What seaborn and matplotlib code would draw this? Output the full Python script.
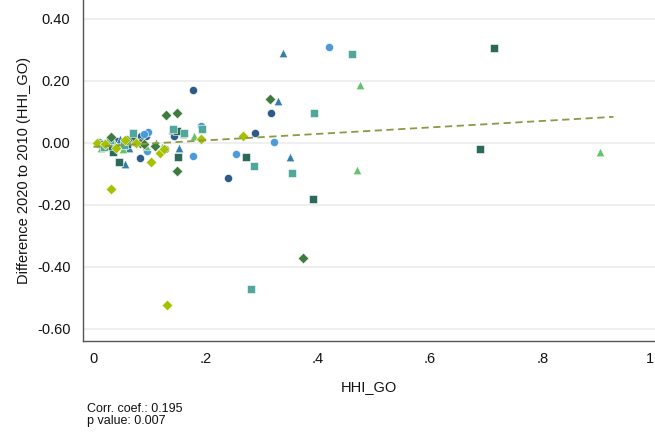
import numpy as np
import pandas as pd
import matplotlib
matplotlib.use("Agg")
import matplotlib.pyplot as plt
import seaborn as sns

# HHI_GO level (x) and 2010->2020 change (y), one pair of lists per group
navy_x = [0.177, 0.316, 0.288, 0.240, 0.144, 0.094, 0.128, 0.083, 0.071, 0.062, 0.085, 0.020, 0.042]
navy_y = [0.169, 0.095, 0.030, -0.115, 0.022, 0.021, -0.021, -0.049, 0.008, -0.001, 0.020, -0.005, 0.004]

sky_x = [0.420, 0.322, 0.254, 0.192, 0.097, 0.095, 0.177, 0.049, 0.030, 0.068, 0.010, 0.090]
sky_y = [0.308, 0.002, -0.037, 0.054, 0.035, -0.026, -0.044, 0.000, -0.010, 0.012, 0.002, 0.028]

steel_x = [0.338, 0.329, 0.350, 0.111, 0.153, 0.057, 0.048, 0.064, 0.020, 0.038, 0.140]
steel_y = [0.289, 0.134, -0.047, 0.000, -0.019, -0.069, 0.013, -0.019, 0.002, -0.008, 0.040]

lgreen_x = [0.475, 0.470, 0.903, 0.179, 0.094, 0.122, 0.013, 0.052, 0.160, 0.035, 0.075]
lgreen_y = [0.186, -0.089, -0.031, 0.021, -0.011, -0.013, -0.019, -0.022, 0.028, 0.005, 0.003]

dteal_x = [0.714, 0.689, 0.391, 0.272, 0.148, 0.150, 0.046, 0.035, 0.016, 0.071, 0.025, 0.060]
dteal_y = [0.305, -0.021, -0.182, -0.047, 0.038, -0.048, -0.064, -0.030, -0.003, 0.008, -0.012, -0.005]

mteal_x = [0.461, 0.393, 0.354, 0.286, 0.281, 0.071, 0.141, 0.161, 0.193, 0.030, 0.018, 0.055]
mteal_y = [0.285, 0.095, -0.098, -0.076, -0.473, 0.030, 0.045, 0.030, 0.043, 0.010, -0.015, -0.008]

dgreen_x = [0.315, 0.373, 0.129, 0.148, 0.148, 0.083, 0.031, 0.090, 0.060, 0.110]
dgreen_y = [0.140, -0.373, 0.089, 0.097, -0.091, 0.000, 0.017, -0.005, 0.010, -0.012]

lime_x = [0.266, 0.131, 0.031, 0.192, 0.119, 0.102, 0.006, 0.057, 0.041, 0.020, 0.075, 0.125]
lime_y = [0.021, -0.524, -0.150, 0.013, -0.032, -0.062, 0.000, 0.008, -0.019, -0.005, -0.002, -0.022]

# Linear fit reported with the scatter
fit_intercept = -0.0137
fit_slope = 0.1044
fit_range = [0.0, 0.927]

y_ticks = [0.40, 0.20, 0.00, -0.20, -0.40, -0.60]
y_tick_labels = ["0.40", "0.20", "0.00", "-0.20", "-0.40", "-0.60"]
x_ticks = [0, 0.2, 0.4, 0.6, 0.8, 1.0]
x_tick_labels = ["0", ".2", ".4", ".6", ".8", "1"]

groups = {
    "navy": (navy_x, navy_y, "#2d5b88", "o"),
    "sky": (sky_x, sky_y, "#4b9bdb", "o"),
    "steel": (steel_x, steel_y, "#357ea5", "^"),
    "lgreen": (lgreen_x, lgreen_y, "#68c16c", "^"),
    "dteal": (dteal_x, dteal_y, "#2b6a5b", "s"),
    "mteal": (mteal_x, mteal_y, "#51a799", "s"),
    "dgreen": (dgreen_x, dgreen_y, "#3d7b3e", "D"),
    "lime": (lime_x, lime_y, "#a6c100", "D"),
}

rows = []
for name, (xs, ys, _, _) in groups.items():
    for xv, yv in zip(xs, ys):
        rows.append({"group": name, "HHI_GO": xv, "diff": yv})
df = pd.DataFrame(rows)

palette = {k: v[2] for k, v in groups.items()}
markers = {k: v[3] for k, v in groups.items()}
sizes_by_marker = {"o": 34, "^": 38, "s": 32, "D": 30}

sns.set_theme(style="white")
plt.rcParams["font.family"] = ["Liberation Sans", "DejaVu Sans"]

fig = plt.figure(figsize=(6.55, 4.33), dpi=100)
ax = fig.add_axes([83 / 655, 1 - 341 / 433, 1 - 83 / 655, 341 / 433])

for name in groups:
    sub = df[df["group"] == name]
    sns.scatterplot(data=sub, x="HHI_GO", y="diff", color=palette[name],
                    marker=markers[name], s=sizes_by_marker[markers[name]],
                    edgecolor="white", linewidth=0.4, ax=ax, legend=False,
                    zorder=3)

fit_df = pd.DataFrame({"x": fit_range})
fit_df["y"] = fit_intercept + fit_slope * fit_df["x"]
sns.lineplot(data=fit_df, x="x", y="y", ax=ax, color="#8a9a45",
             linestyle=(0, (4, 2.5)), linewidth=1.3, zorder=4)

ax.set_xlim(-0.0187, 1.001)
ax.set_ylim(-0.640, 0.460)

ax.set_yticks(y_ticks)
ax.set_yticklabels(y_tick_labels)
ax.set_xticks(x_ticks)
ax.set_xticklabels(x_tick_labels)
# the last tick sits on the figure edge; keep its label inside
ax.get_xticklabels()[-1].set_horizontalalignment("right")

for v in y_ticks:
    ax.axhline(v, color="#efefef", linewidth=1.5, zorder=0)

for side in ["top", "right"]:
    ax.spines[side].set_visible(False)
for side in ["left", "bottom"]:
    ax.spines[side].set_color("#555555")
    ax.spines[side].set_linewidth(1.0)

ax.tick_params(axis="both", direction="out", length=5, width=1.0,
               color="#555555", labelsize=10.5, labelcolor="#111111", pad=4)
ax.tick_params(axis="x", pad=3)

ax.set_xlabel("HHI_GO", fontsize=10.5, color="#111111", labelpad=10)
ax.set_ylabel("Difference 2020 to 2010 (HHI_GO)", fontsize=10.5,
              color="#111111", labelpad=4)

fig.text(87 / 655, 1 - 415 / 433, "Corr. coef.: 0.195\np value: 0.007",
         fontsize=9, family=["Liberation Sans Narrow", "Liberation Sans", "DejaVu Sans"],
         color="#111111", va="center", ha="left", linespacing=1.0)

fig.savefig("out.png", dpi=100)
